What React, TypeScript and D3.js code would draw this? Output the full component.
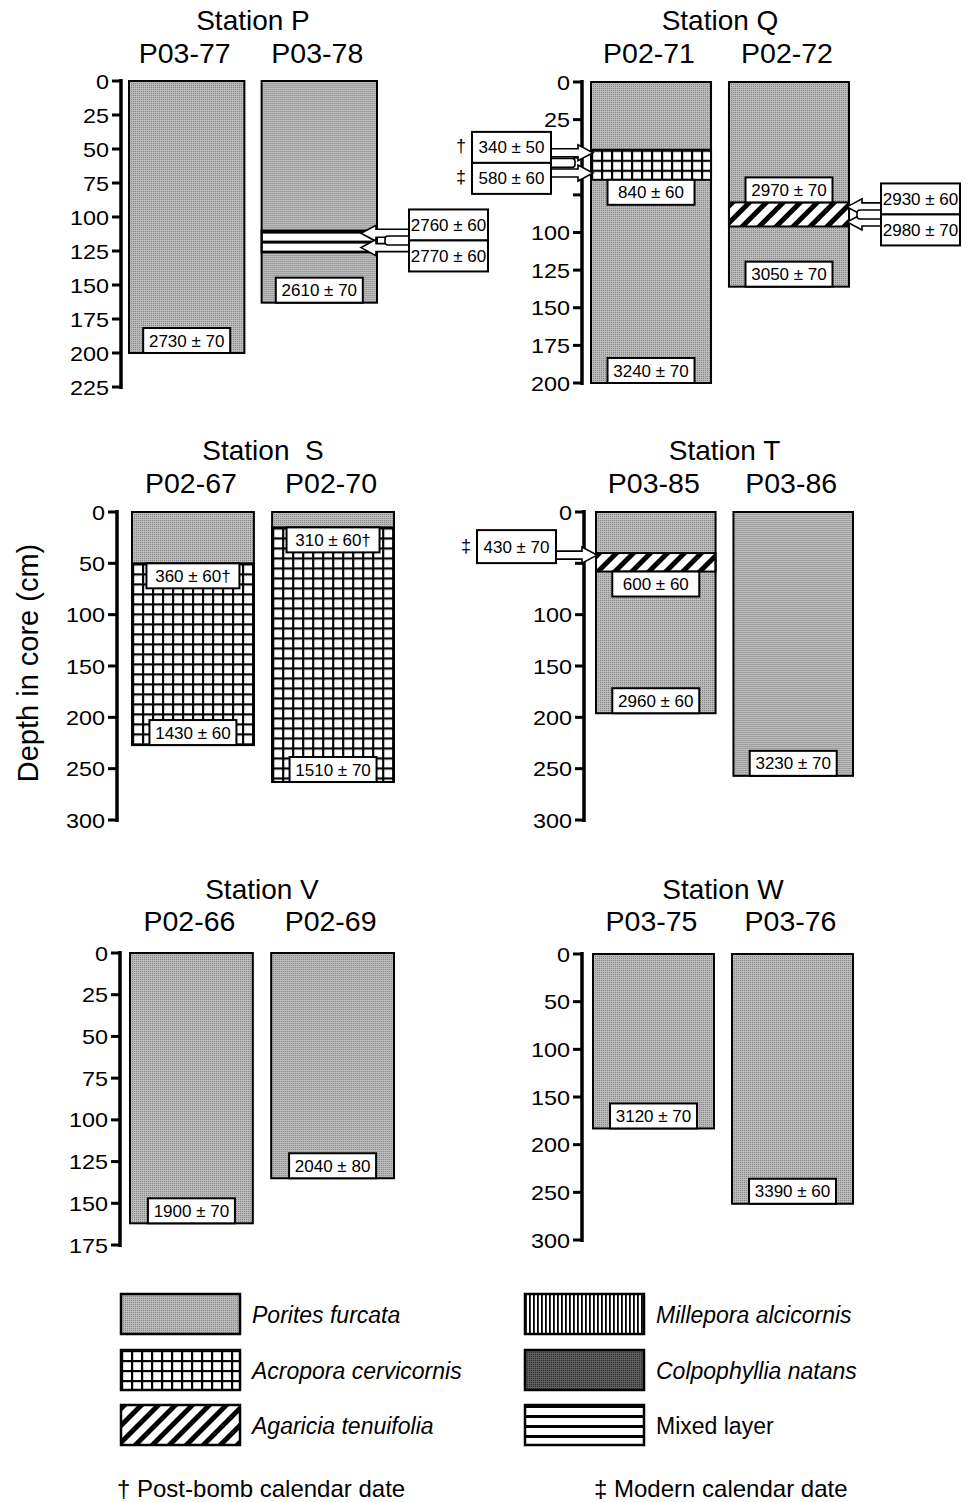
import React from "react";
import * as d3 from "d3";

const FONT = "'Liberation Sans', Arial, Helvetica, sans-serif";

// ---- data ----
const stationNames = ["Station P", "Station Q", "Station  S", "Station T", "Station V", "Station W"];
const coreIds = [
  ["P03-77", "P03-78"],
  ["P02-71", "P02-72"],
  ["P02-67", "P02-70"],
  ["P03-85", "P03-86"],
  ["P02-66", "P02-69"],
  ["P03-75", "P03-76"],
];
const coreDepths = [
  [200, 163],
  [200, 136],
  [227, 263],
  [196, 257],
  [162, 135],
  [183, 262],
];
const axisMax = [225, 200, 300, 300, 175, 300];
const tickSteps = [25, 25, 50, 50, 25, 50];
const hiddenTickLabels = [[1, 50], [1, 75], [3, 50]];

// [station, core, taxon, top cm, bottom cm]  (rest of each core is Porites)
const coreLayers: [number, number, string, number, number][] = [
  [0, 1, "mixed", 110, 126],
  [1, 0, "acropora", 45, 65],
  [1, 1, "agaricia", 80, 96],
  [2, 0, "acropora", 50, 227],
  [2, 1, "acropora", 15, 263],
  [3, 0, "agaricia", 40, 58],
];

// [station, core, label, depth cm, box anchored by its top or bottom]
const coreDates: [number, number, string, number, string][] = [
  [0, 0, "2730 ± 70", 200, "bottom"],
  [0, 1, "2610 ± 70", 163, "bottom"],
  [1, 0, "840 ± 60", 65, "top"],
  [1, 0, "3240 ± 70", 200, "bottom"],
  [1, 1, "2970 ± 70", 80, "bottom"],
  [1, 1, "3050 ± 70", 136, "bottom"],
  [2, 0, "360 ± 60†", 50, "top"],
  [2, 0, "1430 ± 60", 227, "bottom"],
  [2, 1, "310 ± 60†", 15, "top"],
  [2, 1, "1510 ± 70", 263, "bottom"],
  [3, 0, "600 ± 60", 58, "top"],
  [3, 0, "2960 ± 60", 196, "bottom"],
  [3, 1, "3230 ± 70", 257, "bottom"],
  [4, 0, "1900 ± 70", 162, "bottom"],
  [4, 1, "2040 ± 80", 135, "bottom"],
  [5, 0, "3120 ± 70", 183, "bottom"],
  [5, 1, "3390 ± 60", 262, "bottom"],
];

// dates with arrows: [station, core, side, labels, arrow depths cm, marks]
const arrowDates: [number, number, string, string[], number[], string[]][] = [
  [0, 1, "right", ["2760 ± 60", "2770 ± 60"], [112, 122.5], ["", ""]],
  [1, 0, "left", ["340 ± 50", "580 ± 60"], [47, 60.5], ["†", "‡"]],
  [1, 1, "right", ["2930 ± 60", "2980 ± 70"], [83, 93], ["", ""]],
  [3, 0, "left", ["430 ± 70"], [42], ["‡"]],
];

const legendTaxa = [
  "Porites furcata",
  "Acropora cervicornis",
  "Agaricia tenuifolia",
  "Millepora alcicornis",
  "Colpophyllia natans",
  "Mixed layer",
];
const legendKeys = ["porites", "acropora", "agaricia", "millepora", "colpophyllia", "mixed"];
const footnotes = ["† Post-bomb calendar date", "‡ Modern calendar date"];

// ---- layout ----
const panelAxisX = [121, 582, 117, 584, 120, 582];
const panelY0 = [81, 82, 512, 512, 953, 954];
const panelY1 = [387, 383, 820, 820, 1245, 1240];
const panelCoreStart = [8, 9, 15, 12, 10, 11];
const panelCoreSpan = [248, 258, 262, 257, 264, 260];
const rowTitleY = [30, 460, 899];
const rowLabelY = [63, 493, 931];
const arrowInset = [16, 2, 2, 1];

function Patterns() {
  return (
    <defs>
      <pattern id="porites" width={2} height={2} patternUnits="userSpaceOnUse">
        <rect width={2} height={2} fill="#bababa" />
        <rect width={1} height={1} fill="#858585" />
      </pattern>
      <pattern id="colpophyllia" width={2} height={2} patternUnits="userSpaceOnUse">
        <rect width={2} height={2} fill="#5c5c5c" />
        <rect width={1} height={1} fill="#2e2e2e" />
      </pattern>
      <pattern id="acropora" width={10} height={10} patternUnits="userSpaceOnUse">
        <rect width={10} height={10} fill="#fff" />
        <rect x={0} y={0} width={2.2} height={10} fill="#000" />
        <rect x={0} y={0} width={10} height={2.2} fill="#000" />
      </pattern>
      <pattern id="agaricia" width={12} height={12} patternUnits="userSpaceOnUse" patternTransform="rotate(45)">
        <rect width={12} height={12} fill="#fff" />
        <rect x={0} y={0} width={5} height={12} fill="#000" />
      </pattern>
      <pattern id="millepora" width={4} height={4} patternUnits="userSpaceOnUse">
        <rect width={4} height={4} fill="#fff" />
        <rect x={0} y={0} width={1.8} height={4} fill="#000" />
      </pattern>
      <pattern id="mixed" width={10} height={10} patternUnits="userSpaceOnUse">
        <rect width={10} height={10} fill="#fff" />
        <rect x={0} y={0} width={10} height={3} fill="#000" />
      </pattern>
    </defs>
  );
}

function DateBox({ cx, top, label }: { cx: number; top: number; label: string }) {
  const w = label.includes("†") ? 93 : 87;
  const h = 25;
  return (
    <g>
      <rect x={cx - w / 2} y={top} width={w} height={h} fill="#fff" stroke="#000" strokeWidth={2} />
      <text x={cx} y={top + h / 2 + 6} textAnchor="middle" fontSize={17} fontFamily={FONT}>
        {label}
      </text>
    </g>
  );
}

function arrowPoints(xb: number, xt: number, c: number) {
  const d = xt > xb ? 1 : -1;
  const hx = xt - d * 15;
  return [
    [xb, c - 4],
    [hx, c - 4],
    [hx, c - 8],
    [xt, c],
    [hx, c + 8],
    [hx, c + 4],
    [xb, c + 4],
  ]
    .map((p) => p.join(","))
    .join(" ");
}

function Panel({ i }: { i: number }) {
  const row = Math.floor(i / 2);
  const y = d3.scaleLinear().domain([0, axisMax[i]]).range([panelY0[i], panelY1[i]]);
  const x = d3
    .scaleBand<string>()
    .domain(coreIds[i])
    .range([panelAxisX[i] + panelCoreStart[i], panelAxisX[i] + panelCoreStart[i] + panelCoreSpan[i]])
    .paddingInner(0.13);
  const bw = x.bandwidth();
  const ticks = d3.range(0, axisMax[i] + 1, tickSteps[i]);
  const ax = panelAxisX[i];
  const titleX = (x(coreIds[i][0])! + x(coreIds[i][1])! + bw) / 2;

  return (
    <g>
      <text
        x={titleX}
        y={rowTitleY[row]}
        textAnchor="middle"
        fontSize={28}
        fontFamily={FONT}
        style={{ whiteSpace: "pre" }}
      >
        {stationNames[i]}
      </text>
      {coreIds[i].map((id) => (
        <text key={id} x={x(id)! + bw / 2 - 2} y={rowLabelY[row]} textAnchor="middle" fontSize={28.5} fontFamily={FONT}>
          {id}
        </text>
      ))}

      {/* cores */}
      {coreIds[i].map((id, c) => {
        const x0 = x(id)!;
        const len = coreDepths[i][c];
        return (
          <g key={id}>
            <g transform={`translate(${x0},${y(0)})`}>
              <rect width={bw} height={y(len) - y(0)} fill="url(#porites)" />
            </g>
            {coreLayers
              .filter((l) => l[0] === i && l[1] === c)
              .map((l, k) => (
                <g key={k} transform={`translate(${x0},${y(l[3])})`}>
                  <rect
                    width={bw}
                    height={y(l[4]) - y(l[3])}
                    fill={`url(#${l[2]})`}
                    stroke="#000"
                    strokeWidth={2}
                  />
                </g>
              ))}
            <rect x={x0} y={y(0)} width={bw} height={y(len) - y(0)} fill="none" stroke="#000" strokeWidth={2} />
            {coreDates
              .filter((d) => d[0] === i && d[1] === c)
              .map((d, k) => (
                <DateBox
                  key={k}
                  cx={x0 + bw / 2}
                  top={d[4] === "top" ? y(d[3]) : y(d[3]) - 25}
                  label={d[2]}
                />
              ))}
          </g>
        );
      })}

      {/* depth axis */}
      <line x1={ax} x2={ax} y1={y(0) - 2} y2={y(axisMax[i]) + 2} stroke="#000" strokeWidth={3.5} />
      {ticks.map((t) => (
        <g key={t}>
          <line x1={ax - 9} x2={ax} y1={y(t)} y2={y(t)} stroke="#000" strokeWidth={3} />
          {!hiddenTickLabels.some((h) => h[0] === i && h[1] === t) && (
            <text
              x={ax - 12}
              y={y(t) + 7.5}
              textAnchor="end"
              fontSize={21}
              fontFamily={FONT}
              textLength={String(t).length * 13}
              lengthAdjust="spacingAndGlyphs"
            >
              {t}
            </text>
          )}
        </g>
      ))}

      {/* dates with arrows */}
      {arrowDates
        .map((a, k) => [a, k] as const)
        .filter(([a]) => a[0] === i)
        .map(([a, k]) => {
          const x0 = x(coreIds[i][a[1]])!;
          const left = a[2] === "left";
          const bx = left ? x0 - 40 - 79 : x0 + bw + 32;
          const xb = left ? bx + 79 : bx;
          const xt = left ? x0 + arrowInset[k] : x0 + bw - arrowInset[k];
          const ys = a[4].map((d) => y(d));
          const pair = ys.length === 2;
          const joint = pair ? (ys[0] + ys[1]) / 2 : ys[0] + 8;
          const h = pair ? 31 : 33;
          const tops = pair ? [joint - h, joint] : [joint - h];
          return (
            <g key={k}>
              {ys.map((yy, j) => (
                <polygon key={j} points={arrowPoints(xb, xt, yy)} fill="#fff" stroke="#000" strokeWidth={1.6} />
              ))}
              {pair && (
                <rect
                  x={left ? xb - 2 : xb - 24}
                  y={joint - 4.5}
                  width={26}
                  height={9}
                  rx={3}
                  fill="#fff"
                  stroke="#000"
                  strokeWidth={1.6}
                />
              )}
              {a[3].map((lab, j) => (
                <g key={j}>
                  <rect x={bx} y={tops[j]} width={79} height={h} fill="#fff" stroke="#000" strokeWidth={2} />
                  <text x={bx + 39.5} y={tops[j] + h / 2 + 6} textAnchor="middle" fontSize={17} fontFamily={FONT}>
                    {lab}
                  </text>
                  {a[5][j] && (
                    <text x={bx - 6} y={tops[j] + h / 2 + 5} textAnchor="end" fontSize={18} fontFamily={FONT}>
                      {a[5][j]}
                    </text>
                  )}
                </g>
              ))}
            </g>
          );
        })}
    </g>
  );
}

function Legend() {
  const colX = [121, 525];
  const rowY = [1294, 1350, 1405];
  return (
    <g>
      {legendTaxa.map((name, k) => {
        const sx = colX[Math.floor(k / 3)];
        const sy = rowY[k % 3];
        return (
          <g key={name}>
            <g transform={`translate(${sx},${sy})`}>
              <rect width={119} height={40} fill={`url(#${legendKeys[k]})`} stroke="#000" strokeWidth={2.5} />
            </g>
            <text
              x={sx + 131}
              y={sy + 29}
              fontSize={23}
              fontStyle={name === "Mixed layer" ? "normal" : "italic"}
              fontFamily={FONT}
            >
              {name}
            </text>
          </g>
        );
      })}
      {footnotes.map((f, k) => (
        <text key={f} x={[117, 594][k]} y={1497} fontSize={24} fontFamily={FONT}>
          {f}
        </text>
      ))}
    </g>
  );
}

export default function App() {
  return (
    <svg
      width={972}
      height={1502}
      viewBox="0 0 972 1502"
      style={{ position: "absolute", left: 0, top: 0, background: "#fff" }}
    >
      <Patterns />
      <rect width={972} height={1502} fill="#fff" />
      {stationNames.map((_, i) => (
        <Panel key={i} i={i} />
      ))}
      <text
        transform="translate(38,663) rotate(-90)"
        textAnchor="middle"
        fontSize={29}
        fontFamily={FONT}
      >
        Depth in core (cm)
      </text>
      <Legend />
    </svg>
  );
}
